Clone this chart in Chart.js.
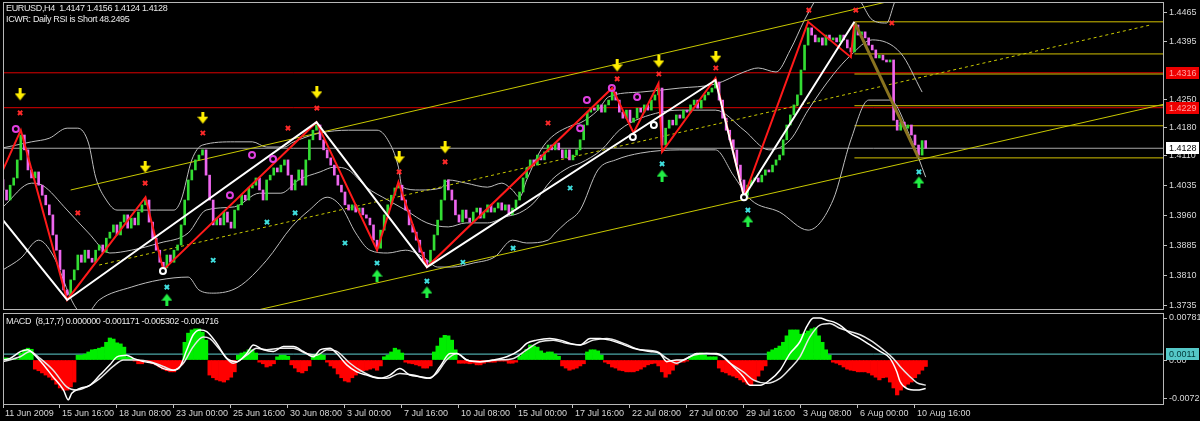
<!DOCTYPE html>
<html><head><meta charset="utf-8">
<script src="https://cdn.jsdelivr.net/npm/chart.js@4.4.1/dist/chart.umd.min.js"></script>
<style>
html,body{margin:0;padding:0;background:#000;width:1200px;height:421px;overflow:hidden}
#main{position:absolute;left:0;top:0}
#macd{position:absolute;left:0;top:312px}
.hdr{position:absolute;left:6px;color:#e8e8e8;font:9px "Liberation Sans",Arial,sans-serif;letter-spacing:-0.35px;white-space:pre;line-height:11px}
</style></head><body>
<canvas id="main" width="1200" height="312"></canvas>
<canvas id="macd" width="1200" height="109"></canvas>
<div class="hdr" style="top:3px">EURUSD,H4  1.4147 1.4156 1.4124 1.4128</div>
<div class="hdr" style="top:14px">ICWR: Daily RSI is Short 48.2495</div>
<div class="hdr" style="top:316px">MACD  (8,17,7) 0.000000 -0.001171 -0.005302 -0.004716</div>
<script>
// ---------- DATA ----------
const timeLabels = ['11 Jun 2009','15 Jun 16:00','18 Jun 08:00','23 Jun 00:00','25 Jun 16:00','30 Jun 08:00','3 Jul 00:00','7 Jul 16:00','10 Jul 08:00','15 Jul 00:00','17 Jul 16:00','22 Jul 08:00','27 Jul 00:00','29 Jul 16:00','3 Aug 08:00','6 Aug 00:00','10 Aug 16:00'];
const timeTickIdx = [0,16,32,48,64,80,96,112,128,144,160,176,192,208,224,240,256];
const priceTicks = [1.4465,1.4395,1.4250,1.4180,1.4110,1.4035,1.3960,1.3885,1.3810,1.3735];
const macdTicks = [0.007818,0,-0.00725];

const firstOpen = 1.4050;
const closes = [
1.4024,1.3999,1.4036,1.4054,1.4099,1.4161,1.4124,1.4074,1.4054,1.4069,
1.4036,1.4011,1.3987,1.3962,1.3912,1.3874,1.3825,1.3775,1.3762,1.3800,
1.3825,1.3862,1.3844,1.3874,1.3854,1.3844,1.3874,1.3887,1.3869,1.3904,
1.3919,1.3937,1.3912,1.3944,1.3962,1.3929,1.3954,1.3937,1.3969,1.3987,
1.3999,1.3944,1.3904,1.3874,1.3844,1.3830,1.3862,1.3844,1.3874,1.3887,
1.3937,1.3999,1.4049,1.4074,1.4099,1.4111,1.4124,1.4061,1.3999,1.3937,
1.3954,1.3937,1.3969,1.3944,1.3929,1.3974,1.3987,1.4011,1.3999,1.4029,
1.4036,1.4054,1.4024,1.3999,1.4049,1.4061,1.4079,1.4069,1.4086,1.4099,
1.4061,1.4024,1.4049,1.4074,1.4036,1.4099,1.4149,1.4173,1.4186,1.4149,
1.4124,1.4104,1.4086,1.4061,1.4036,1.4019,1.3987,1.3974,1.3987,1.3969,
1.3979,1.3962,1.3954,1.3937,1.3899,1.3879,1.3924,1.3962,1.3987,1.4011,
1.4029,1.4036,1.3999,1.3974,1.3937,1.3919,1.3899,1.3869,1.3849,1.3837,
1.3874,1.3912,1.3949,1.3999,1.4049,1.4024,1.3999,1.3962,1.3944,1.3974,
1.3954,1.3944,1.3969,1.3979,1.3954,1.3969,1.3987,1.3969,1.3979,1.3992,
1.3974,1.3987,1.3962,1.3979,1.3999,1.4019,1.4054,1.4079,1.4099,1.4086,
1.4111,1.4099,1.4119,1.4136,1.4124,1.4141,1.4124,1.4104,1.4124,1.4099,
1.4111,1.4124,1.4149,1.4186,1.4218,1.4228,1.4223,1.4236,1.4218,1.4236,
1.4248,1.4268,1.4248,1.4218,1.4203,1.4223,1.4193,1.4203,1.4228,1.4218,
1.4236,1.4223,1.4248,1.4261,1.4278,1.4136,1.4178,1.4198,1.4186,1.4211,
1.4203,1.4223,1.4218,1.4236,1.4248,1.4228,1.4248,1.4261,1.4268,1.4278,
1.4293,1.4248,1.4203,1.4173,1.4149,1.4124,1.4086,1.4049,1.4011,1.4036,
1.4049,1.4054,1.4044,1.4061,1.4074,1.4069,1.4086,1.4099,1.4111,1.4149,
1.4186,1.4211,1.4236,1.4261,1.4323,1.4385,1.4428,1.4410,1.4393,1.4403,
1.4385,1.4410,1.4398,1.4403,1.4393,1.4410,1.4398,1.4378,1.4368,1.4435,
1.4410,1.4418,1.4403,1.4385,1.4373,1.4353,1.4360,1.4348,1.4343,1.4348,
1.4198,1.4173,1.4193,1.4178,1.4186,1.4161,1.4136,1.4111,1.4147,1.4128];

const bandUpper = [[0,1.4129],[8,1.4144],[13,1.4153],[18,1.4178],[21,1.4178],[24,1.4141],[26,1.4056],[29,1.3999],[32,1.3974],[43,1.3974],[48,1.3974],[50,1.3999],[53,1.4099],[56,1.4136],[65,1.4144],[70,1.4144],[74,1.4131],[79,1.4131],[81,1.4141],[83,1.4149],[89,1.4166],[97,1.4173],[105,1.4173],[108,1.4149],[111,1.4081],[112,1.4031],[117,1.4024],[123,1.4029],[125,1.4049],[130,1.4041],[136,1.4031],[140,1.4041],[143,1.4024],[145,1.4006],[147,1.4049],[151,1.4124],[154,1.4156],[160,1.4186],[162,1.4191],[167,1.4223],[170,1.4256],[179,1.4268],[190,1.4278],[200,1.4288],[208,1.4318],[212,1.4328],[217,1.4318],[221,1.4373],[225,1.4448],[228,1.4497],[232,1.4560],[238,1.4535],[241,1.4490],[244,1.4448],[248,1.4440],[250,1.4485],[253,1.4572],[259,1.4647]];
const bandMiddle = [[0,1.3982],[8,1.4041],[11,1.4036],[18,1.3974],[24,1.3917],[30,1.3867],[36,1.3874],[44,1.3892],[52,1.3917],[57,1.3974],[65,1.3982],[72,1.4016],[78,1.4016],[83,1.4049],[89,1.4069],[93,1.4081],[97,1.4074],[102,1.4031],[108,1.3999],[113,1.3974],[119,1.3942],[125,1.3932],[130,1.3942],[136,1.3942],[141,1.3957],[145,1.3967],[149,1.3992],[154,1.4049],[159,1.4081],[162,1.4091],[168,1.4124],[173,1.4173],[179,1.4203],[190,1.4223],[200,1.4223],[208,1.4173],[215,1.4124],[221,1.4149],[226,1.4223],[233,1.4311],[238,1.4360],[244,1.4398],[252,1.4365],[258,1.4268]];
const bandLower = [[0,1.3825],[5,1.3854],[10,1.3899],[14,1.3862],[20,1.3737],[23,1.3712],[27,1.3750],[36,1.3782],[44,1.3800],[52,1.3807],[55,1.3775],[59,1.3767],[66,1.3782],[74,1.3849],[81,1.3932],[86,1.3974],[91,1.4006],[95,1.3982],[99,1.3917],[103,1.3874],[108,1.3867],[113,1.3874],[118,1.3857],[122,1.3832],[126,1.3832],[132,1.3842],[138,1.3857],[143,1.3899],[147,1.3892],[153,1.3899],[155,1.3917],[158,1.3942],[162,1.3974],[167,1.4074],[172,1.4099],[179,1.4116],[190,1.4124],[200,1.4124],[205,1.4061],[210,1.3999],[218,1.3969],[226,1.3924],[233,1.3999],[238,1.4149],[243,1.4248],[249,1.4248],[255,1.4149],[259,1.4056]];

const zigRed = [[0,1.4074],[5,1.4173],[18,1.3750],[40,1.4006],[45,1.3825],[88,1.4193],[105,1.3874],[111,1.4044],[119,1.3832],[171,1.4278],[177,1.4166],[184,1.4290],[185,1.4119],[200,1.4303],[208,1.4007],[226,1.4443],[238,1.4355],[239,1.4443]];
const zigWhite = [[0,1.3949],[18,1.3750],[88,1.4193],[119,1.3832],[200,1.4298],[208,1.4007],[239,1.4443]];
const zigLast = [[239,1.4443],[257,1.4104]];

const chanUpper = [[19,1.4024],[260,1.4517]];
const chanLower = [[72,1.3726],[326,1.4238]];
const chanMid = [[27,1.3837],[322,1.4435]];

const redLevels = [1.4316,1.4229];
const bidPrice = 1.4128;
const fibStart = 239;
const fibLevels = [1.4443,1.4363,1.4313,1.4234,1.4184,1.4104];

const yellowArrows = [[4.8,1.4261],[39.9,1.4081],[56.1,1.4203],[88.1,1.4266],[111.2,1.4104],[124.1,1.4129],[172.4,1.4333],[184.1,1.4343],[200.1,1.4355]];
const redCrosses = [[4.8,1.4216],[39.9,1.4041],[56.1,1.4166],[88.1,1.4228],[111.2,1.4069],[124.1,1.4094],[172.4,1.4301],[184.1,1.4313],[200.1,1.4328],[21,1.3967],[80,1.4178],[153,1.4191],[226.2,1.4472],[239.4,1.4472],[249.5,1.4440]];
const cyanCrosses = [[46,1.3782],[59,1.3849],[74.1,1.3944],[82,1.3967],[96,1.3892],[105,1.3842],[119,1.3797],[129.1,1.3844],[143.2,1.3879],[159.2,1.4029],[185,1.4089],[209.1,1.3974],[257.1,1.4069]];
const greenArrows = [[46,1.3752],[105,1.3812],[119,1.3770],[185,1.4061],[209.1,1.3947],[257.1,1.4044]];
const magentaRings = [[3.6,1.4176],[63.7,1.4011],[69.9,1.4111],[75.8,1.4101],[162,1.4178],[163.9,1.4248],[170.9,1.4278],[178,1.4256]];
const whiteRings = [[44.9,1.3822],[176.8,1.4156],[182.7,1.4186],[208,1.4006]];

const macdHist = [
0.0004,0.0004,0.0002,0.0001,0.0001,0.0013,0.0019,0.0022,0.0020,-0.0017,
-0.0020,-0.0024,-0.0028,-0.0032,-0.0037,-0.0045,-0.0052,-0.0056,-0.0056,-0.0050,
-0.0041,0.0009,0.0009,0.0011,0.0015,0.0019,0.0020,0.0022,0.0024,0.0033,
0.0041,0.0039,0.0032,0.0030,0.0024,0.0006,0.0004,-0.0002,-0.0007,-0.0007,
-0.0002,-0.0004,-0.0007,-0.0009,-0.0013,-0.0017,-0.0020,-0.0022,-0.0022,-0.0017,
-0.0009,0.0033,0.0050,0.0056,0.0058,0.0058,0.0052,0.0037,-0.0028,-0.0033,
-0.0037,-0.0039,-0.0041,-0.0037,-0.0032,-0.0022,0.0009,0.0013,0.0015,0.0019,
0.0019,0.0013,-0.0004,-0.0007,-0.0013,-0.0011,-0.0007,0.0006,0.0009,0.0009,
0.0007,-0.0009,-0.0015,-0.0022,-0.0024,-0.0020,-0.0011,0.0009,0.0011,0.0011,
0.0009,-0.0004,-0.0011,-0.0015,-0.0026,-0.0033,-0.0039,-0.0041,-0.0033,-0.0028,
-0.0022,-0.0020,-0.0019,-0.0017,-0.0015,-0.0019,-0.0011,0.0006,0.0009,0.0015,
0.0022,0.0019,0.0013,-0.0004,-0.0006,-0.0007,-0.0009,-0.0011,-0.0015,-0.0015,
-0.0011,0.0015,0.0026,0.0041,0.0046,0.0045,0.0037,0.0019,-0.0006,-0.0006,
-0.0006,-0.0007,-0.0006,-0.0009,-0.0009,-0.0006,-0.0004,-0.0004,-0.0004,-0.0002,
-0.0002,-0.0002,-0.0006,-0.0006,-0.0004,0.0007,0.0013,0.0020,0.0028,0.0026,
0.0024,0.0017,0.0013,0.0015,0.0015,0.0011,0.0007,-0.0011,-0.0015,-0.0019,
-0.0017,-0.0015,-0.0011,-0.0007,0.0015,0.0019,0.0019,0.0017,0.0009,-0.0004,
-0.0007,-0.0013,-0.0015,-0.0019,-0.0020,-0.0022,-0.0022,-0.0022,-0.0020,-0.0017,
-0.0013,-0.0009,-0.0007,-0.0006,-0.0011,-0.0022,-0.0032,-0.0026,-0.0019,-0.0009,
-0.0004,-0.0004,-0.0002,0.0006,0.0009,0.0011,0.0013,0.0009,0.0006,0.0006,
0.0006,-0.0015,-0.0022,-0.0024,-0.0028,-0.0030,-0.0033,-0.0037,-0.0041,-0.0045,
-0.0046,-0.0039,-0.0030,-0.0019,-0.0011,0.0015,0.0019,0.0022,0.0026,0.0033,
0.0045,0.0056,0.0056,0.0056,0.0048,0.0050,0.0054,0.0058,0.0060,0.0045,
0.0033,0.0019,0.0009,-0.0004,-0.0006,-0.0009,-0.0013,-0.0017,-0.0019,-0.0020,
-0.0022,-0.0022,-0.0022,-0.0024,-0.0028,-0.0032,-0.0037,-0.0033,-0.0032,-0.0041,
-0.0052,-0.0065,-0.0056,-0.0050,-0.0045,-0.0041,-0.0033,-0.0026,-0.0019,-0.0012];
const macdLevel = 0.0011;
const macdMain = [[0,0],[2,0.0003],[5,0.0016],[7,0.0019],[8.5,0.0012],[11,-0.0006],[14,-0.0031],[17,-0.0056],[18.3,-0.0074],[19.3,-0.0062],[21.6,-0.0053],[24.4,-0.0047],[27.2,-0.0028],[30,-0.0009],[32,0.0006],[34.7,0.0009],[36.6,0.0003],[39.4,-0.0003],[42.2,-0.0006],[45,-0.0016],[47.8,-0.0019],[49.7,-0.0012],[51.6,0.0019],[53.4,0.0047],[55.3,0.0056],[57.2,0.0053],[60,0.0031],[62.8,0.0003],[65.6,-0.0003],[68.4,0.0012],[70.3,0.0028],[73.1,0.0019],[75.9,0.0016],[78.7,0.0025],[81.5,0.0025],[84.3,0.0016],[87.1,0.0006],[89,0.0019],[91.8,0.0022],[93.7,0.0012],[96.5,-0.0009],[99.3,-0.0022],[102.1,-0.0028],[105.8,-0.0034],[108.6,-0.0028],[111.4,-0.0016],[114.2,-0.0028],[117.1,-0.0031],[119.9,-0.0034],[122.7,-0.0012],[125.5,0.0012],[127.4,0.0012],[130.2,0],[133.9,-0.0003],[137.6,0],[141.4,0.0006],[145.1,0.0019],[147,0.0031],[149.8,0.0037],[153.5,0.0040],[156.4,0.0037],[159.2,0.0031],[162,0.0028],[164.8,0.0040],[167.6,0.0040],[170.4,0.0037],[173.2,0.0031],[176.9,0.0022],[181.6,0.0016],[184.4,0.0012],[186.3,-0.0003],[189.1,0],[191,0],[192.8,0.0006],[194.7,0.0012],[200.3,0.0012],[202.2,0.0006],[205,-0.0012],[207.8,-0.0031],[209.7,-0.0047],[212.5,-0.0047],[215.3,-0.0037],[218.1,-0.0019],[220.9,0.0012],[223.7,0.0034],[225.6,0.0062],[227.5,0.0078],[229.3,0.0078],[231.2,0.0074],[233.1,0.0071],[234.9,0.0065],[237.7,0.0050],[240.6,0.0040],[243.4,0.0028],[246.2,0.0016],[249,0.0003],[250.9,-0.0022],[251.8,-0.0040],[253.7,-0.0053],[256.5,-0.0056],[259,-0.0053]];
const macdSignal = [[0,-0.0003],[4.8,0.0006],[7.6,0.0016],[10.4,0.0003],[14.1,-0.0019],[17.9,-0.0050],[20.7,-0.0056],[23.5,-0.0050],[27.2,-0.0034],[30.9,-0.0012],[33.8,0],[37.5,0],[41.3,-0.0003],[45,-0.0012],[47.8,-0.0019],[50.6,-0.0006],[53.4,0.0025],[56.2,0.0043],[58.1,0.0040],[60.9,0.0019],[64.6,-0.0006],[68.4,0.0009],[71.2,0.0022],[74,0.0019],[77.8,0.0022],[81.5,0.0022],[85.2,0.0012],[88.1,0.0009],[90.9,0.0019],[93.7,0.0016],[97.4,-0.0006],[100.2,-0.0019],[103.9,-0.0031],[107.7,-0.0034],[111.4,-0.0025],[115.2,-0.0028],[118.9,-0.0034],[121.7,-0.0025],[124.5,0],[127.4,0.0012],[130.2,0],[133.9,-0.0003],[138.6,0],[143.3,0.0003],[147,0.0019],[150.7,0.0034],[154.5,0.0037],[158.2,0.0031],[162,0.0028],[165.7,0.0037],[169.5,0.0040],[174.2,0.0031],[178.9,0.0019],[183.5,0.0016],[186.3,0.0003],[189.1,-0.0006],[191,0],[193.8,0.0009],[197.5,0.0012],[201.3,0.0009],[204.1,-0.0006],[207.8,-0.0022],[210.6,-0.0037],[214.4,-0.0043],[218.1,-0.0034],[220.9,-0.0016],[223.7,0.0006],[226.5,0.0043],[229.3,0.0065],[232.1,0.0068],[234.9,0.0059],[237.7,0.0053],[240.6,0.0047],[243.4,0.0037],[247.1,0.0019],[249.9,0.0003],[251.8,-0.0012],[254.6,-0.0031],[256.5,-0.0042],[259,-0.0047]];

// ---------- helpers ----------
const XMAX = 325.9;
const FONT = '"Liberation Sans", Arial, sans-serif';
Chart.defaults.font.family = FONT;
Chart.defaults.font.size = 9;
const xy = a => a.map(([x,y]) => ({x,y}));
const hline = (v, x0, x1) => [{x:x0,y:v},{x:x1,y:v}];
function arrowImg(color, down){
  const c = document.createElement('canvas'); c.width = 11; c.height = 13;
  const g = c.getContext('2d'); g.fillStyle = color;
  if (down){ g.fillRect(4,0,3,7); g.beginPath(); g.moveTo(0,5); g.lineTo(11,5); g.lineTo(5.5,12); g.closePath(); g.fill(); }
  else { g.fillRect(4,6,3,7); g.beginPath(); g.moveTo(0,8); g.lineTo(11,8); g.lineTo(5.5,1); g.closePath(); g.fill(); }
  return c;
}
const opens = closes.map((c,i) => i === 0 ? firstOpen : closes[i-1]);
function noPad(s){ s.paddingTop = 0; s.paddingBottom = 0; s.paddingLeft = 0; s.paddingRight = 0; }

const framePlugin = {
  id:'frame',
  afterDraw(chart){
    const {ctx, chartArea:a} = chart;
    ctx.save(); ctx.strokeStyle = '#b8b8b8'; ctx.lineWidth = 1;
    ctx.strokeRect(a.left+0.5, a.top+0.5, a.right-a.left-1, a.bottom-a.top-1);
    const boxes = chart.options.plugins.frame && chart.options.plugins.frame.boxes;
    if (boxes){
      const y = chart.scales.y;
      ctx.font = '9px ' + FONT; ctx.textBaseline = 'middle'; ctx.textAlign = 'left';
      for (const b of boxes){
        const py = Math.round(y.getPixelForValue(b.value));
        ctx.fillStyle = b.bg; ctx.fillRect(a.right+2, py-6, 33, 12);
        ctx.fillStyle = b.fg; ctx.fillText(b.text, a.right+5, py+0.5);
      }
    }
    ctx.restore();
  }
};
Chart.register(framePlugin);

const lineDs = (data, color, width, order, extra) => Object.assign({type:'line', data, borderColor:color, borderWidth:width, pointRadius:0, fill:false, tension:0, order}, extra||{});
const markDs = (data, style, color, radius, bw, order, bg) => ({type:'scatter', data:xy(data), pointStyle:style, pointRadius:radius, borderColor:color, backgroundColor:bg||color, pointBorderWidth:bw, borderWidth:bw, order});

// ---------- main chart ----------
const mainDatasets = [];
redLevels.forEach(v => mainDatasets.push(lineDs(hline(v,0,XMAX), '#dd0000', 1, 9)));
mainDatasets.push(lineDs(hline(bidPrice,0,XMAX), '#a8a8a8', 1, 9));
fibLevels.forEach(v => mainDatasets.push(lineDs(hline(v,fibStart,XMAX), '#d2c000', 1, 8)));
[bandUpper, bandMiddle, bandLower].forEach(b => mainDatasets.push(lineDs(xy(b), '#bdbdbd', 1, 7, {cubicInterpolationMode:'monotone'})));
mainDatasets.push(lineDs(xy(chanUpper), '#c8c800', 1, 6));
mainDatasets.push(lineDs(xy(chanLower), '#c8c800', 1, 6));
mainDatasets.push(lineDs(xy(chanMid), '#c8c800', 1, 6, {borderDash:[3,3]}));
mainDatasets.push({type:'bar', data: closes.map((c,i)=>({x:i, y:[opens[i], c]})),
  backgroundColor: closes.map((c,i)=> c >= opens[i] ? '#33dd33' : '#ee66ee'),
  barThickness:2, minBarLength:1, grouped:false, order:4});
mainDatasets.push(lineDs(xy(zigRed), '#ff1a1a', 2, 3));
mainDatasets.push(lineDs(xy(zigWhite), '#ffffff', 2, 2));
mainDatasets.push(lineDs(xy(zigLast), '#8a7420', 3, 2));
mainDatasets.push(markDs(yellowArrows, arrowImg('#ffee00', true), '#ffee00', 6, 0, 1));
mainDatasets.push(markDs(greenArrows, arrowImg('#22ee44', false), '#22ee44', 6, 0, 1));
mainDatasets.push(markDs(redCrosses, 'crossRot', '#ff2a2a', 3, 2, 1));
mainDatasets.push(markDs(cyanCrosses, 'crossRot', '#40e0e0', 3, 2, 1));
mainDatasets.push(markDs(magentaRings, 'circle', '#e040e0', 3, 2, 1, 'rgba(0,0,0,0)'));
mainDatasets.push(markDs(whiteRings, 'circle', '#ffffff', 3, 2, 1, '#000000'));

new Chart(document.getElementById('main'), {
  type:'bar',
  data:{datasets: mainDatasets},
  options:{
    responsive:false, animation:false, events:[],
    layout:{autoPadding:false, padding:{left:3, top:2, right:0, bottom:2}},
    plugins:{legend:{display:false}, tooltip:{enabled:false},
      frame:{boxes:[
        {value:redLevels[0], text:redLevels[0].toFixed(4), bg:'#ee0000', fg:'#ffa0a0'},
        {value:redLevels[1], text:redLevels[1].toFixed(4), bg:'#ee0000', fg:'#ffa0a0'},
        {value:bidPrice, text:bidPrice.toFixed(4), bg:'#ffffff', fg:'#000000'}]}},
    scales:{
      x:{type:'linear', min:0, max:XMAX, display:false, offset:false},
      y:{type:'linear', position:'right', min:1.37250, max:1.44924,
        afterFit(s){ s.width = 36; noPad(s); },
        afterBuildTicks(s){ s.ticks = priceTicks.map(v=>({value:v})); },
        ticks:{color:'#d8d8d8', padding:2, callback:v=>Number(v).toFixed(4)},
        grid:{drawOnChartArea:false, drawTicks:true, tickLength:3, color:'#c0c0c0'},
        border:{display:false}}
    }
  }
});

// ---------- MACD chart ----------
new Chart(document.getElementById('macd'), {
  type:'bar',
  data:{datasets:[
    lineDs(hline(macdLevel,0,XMAX), '#5fd0d0', 1, 5),
    {type:'bar', data: macdHist.map((v,i)=>({x:i,y:v})), backgroundColor: macdHist.map(v=> v>=0 ? '#00ee00' : '#ff0000'),
      barPercentage:1, categoryPercentage:1, grouped:false, order:4},
    lineDs(xy(macdSignal), '#e6e6e6', 1.5, 2, {cubicInterpolationMode:'monotone'}),
    lineDs(xy(macdMain), '#ffffff', 1.5, 1, {cubicInterpolationMode:'monotone'})
  ]},
  options:{
    responsive:false, animation:false, events:[],
    layout:{autoPadding:false, padding:{left:3, top:1, right:0, bottom:0}},
    plugins:{legend:{display:false}, tooltip:{enabled:false},
      frame:{boxes:[{value:macdLevel, text:macdLevel.toFixed(4), bg:'#55c8c8', fg:'#003838'}]}},
    scales:{
      x:{type:'linear', min:0, max:XMAX, offset:false,
        afterFit(s){ s.height = 16; noPad(s); },
        afterBuildTicks(s){ s.ticks = timeTickIdx.map(v=>({value:v})); },
        ticks:{align:'start', labelOffset:2, padding:0, maxRotation:0, minRotation:0, autoSkip:false, color:'#d8d8d8',
          callback:(v,i)=>timeLabels[i]},
        grid:{drawOnChartArea:false, drawTicks:true, tickLength:3, color:'#c0c0c0', offset:false},
        border:{display:false}},
      y:{type:'linear', position:'right', min:-0.00837, max:0.00875,
        afterFit(s){ s.width = 36; noPad(s); },
        afterBuildTicks(s){ s.ticks = macdTicks.map(v=>({value:v})); },
        ticks:{color:'#d8d8d8', padding:2, callback:v=> v===0 ? '0.00' : (v>0 ? Number(v).toFixed(6) : Number(v).toFixed(5))},
        grid:{drawOnChartArea:false, drawTicks:true, tickLength:3, color:'#c0c0c0'},
        border:{display:false}}
    }
  }
});
</script>
</body></html>
